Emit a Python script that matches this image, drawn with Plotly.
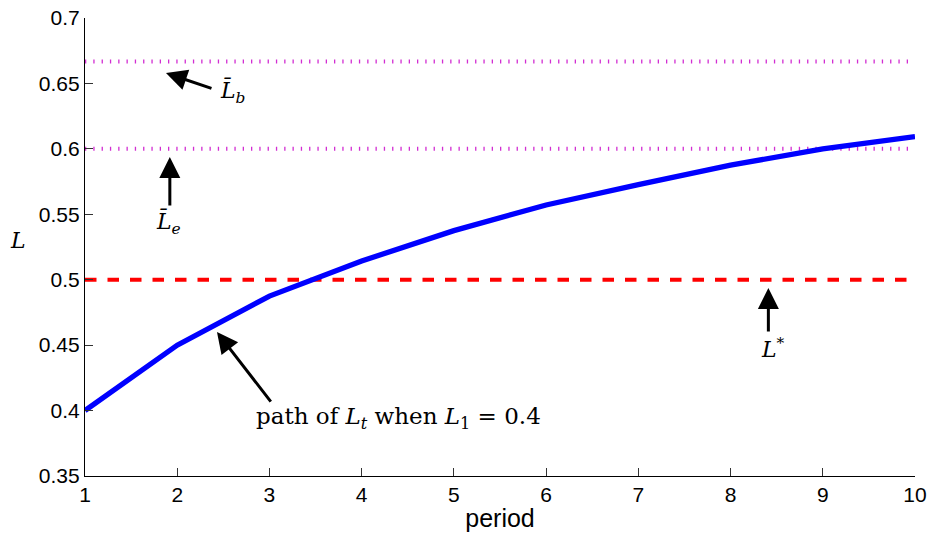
import plotly.graph_objects as go

# Data
periods = [1, 2, 3, 4, 5, 6, 7, 8, 9, 10]
L_path = [0.4, 0.45, 0.4875, 0.5143, 0.5375, 0.5571, 0.5727, 0.5875, 0.6, 0.6093]
L_star = 0.5
L_bar_b = 2 / 3
L_bar_e = 0.6
x_range = [1, 10]
y_ticks = [0.35, 0.4, 0.45, 0.5, 0.55, 0.6, 0.65, 0.7]
y_tick_labels = ["0.35", "0.4", "0.45", "0.5", "0.55", "0.6", "0.65", "0.7"]

SERIF = "DejaVu Serif, Liberation Serif, serif"
SANS = "Liberation Sans, Arial, Helvetica, sans-serif"

fig = go.Figure()

# Magenta dotted reference lines
for val in (L_bar_b, L_bar_e):
    fig.add_trace(go.Scatter(
        x=x_range, y=[val, val], mode="lines",
        line=dict(color="#d22ed2", width=4, dash="1.3px,7px"),
        hoverinfo="skip", showlegend=False,
    ))

# Red dashed steady state
fig.add_trace(go.Scatter(
    x=x_range, y=[L_star, L_star], mode="lines",
    line=dict(color="#ff0000", width=4, dash="11.5px,11px"),
    hoverinfo="skip", showlegend=False,
))

# Blue path
fig.add_trace(go.Scatter(
    x=periods, y=L_path, mode="lines",
    line=dict(color="#0000ff", width=5.3),
    showlegend=False,
))

arrow_style = dict(showarrow=True, arrowhead=2, arrowsize=1.4, arrowwidth=3,
                   arrowcolor="black", text="", xref="x", yref="y", axref="pixel", ayref="pixel")

annotations = [
    dict(x=1.878, y=0.658, ax=47, ay=16, **arrow_style),
    dict(x=1.92, y=0.5938, ax=0, ay=50, **arrow_style),
    dict(x=8.41, y=0.4937, ax=0, ay=45, **arrow_style),
    dict(x=2.431, y=0.46, ax=55, ay=71, **arrow_style),
]

text_style = dict(showarrow=False, xref="x", yref="y", font=dict(family=SERIF, size=22, color="black"))
annotations += [
    dict(x=2.594, y=0.6435, text="<i>L\u0304</i><sub><i>b</i></sub>", **text_style),
    dict(x=1.9, y=0.5433, text="<i>L\u0304</i><sub><i>e</i></sub>", **text_style),
    dict(x=8.46, y=0.4478, text="<i>L</i><sup>*</sup>", **text_style),
    dict(x=4.394, y=0.3943,
         text="path of <i>L</i><sub><i>t</i></sub> when <i>L</i><sub>1</sub> = 0.4",
         showarrow=False, xref="x", yref="y", font=dict(family=SERIF, size=23, color="black")),
    dict(x=(18 - 85) / 830, y=0.5303, xref="paper", yref="y", xanchor="center",
         text="<i>L</i>", showarrow=False,
         font=dict(family=SERIF, size=22, color="black")),
]

fig.update_layout(
    width=930, height=533,
    margin=dict(l=85, r=15, t=18, b=57),
    paper_bgcolor="white", plot_bgcolor="white",
    annotations=annotations,
    xaxis=dict(
        range=x_range, tickmode="array", tickvals=periods,
        ticks="inside", ticklen=8, tickcolor="#333333",
        showline=True, linecolor="black", linewidth=1.2,
        showgrid=False, zeroline=False, automargin=False,
        tickfont=dict(family=SANS, size=21, color="black"),
        title=dict(text="period", font=dict(family=SANS, size=25, color="black"), standoff=4),
    ),
    yaxis=dict(
        range=[0.35, 0.7], tickmode="array", tickvals=y_ticks, ticktext=y_tick_labels,
        ticks="inside", ticklen=8, tickcolor="#333333",
        showline=True, linecolor="black", linewidth=1.2,
        showgrid=False, zeroline=False, automargin=False,
        tickfont=dict(family=SANS, size=21, color="black"),
    ),
)

fig.write_html("out.html")
